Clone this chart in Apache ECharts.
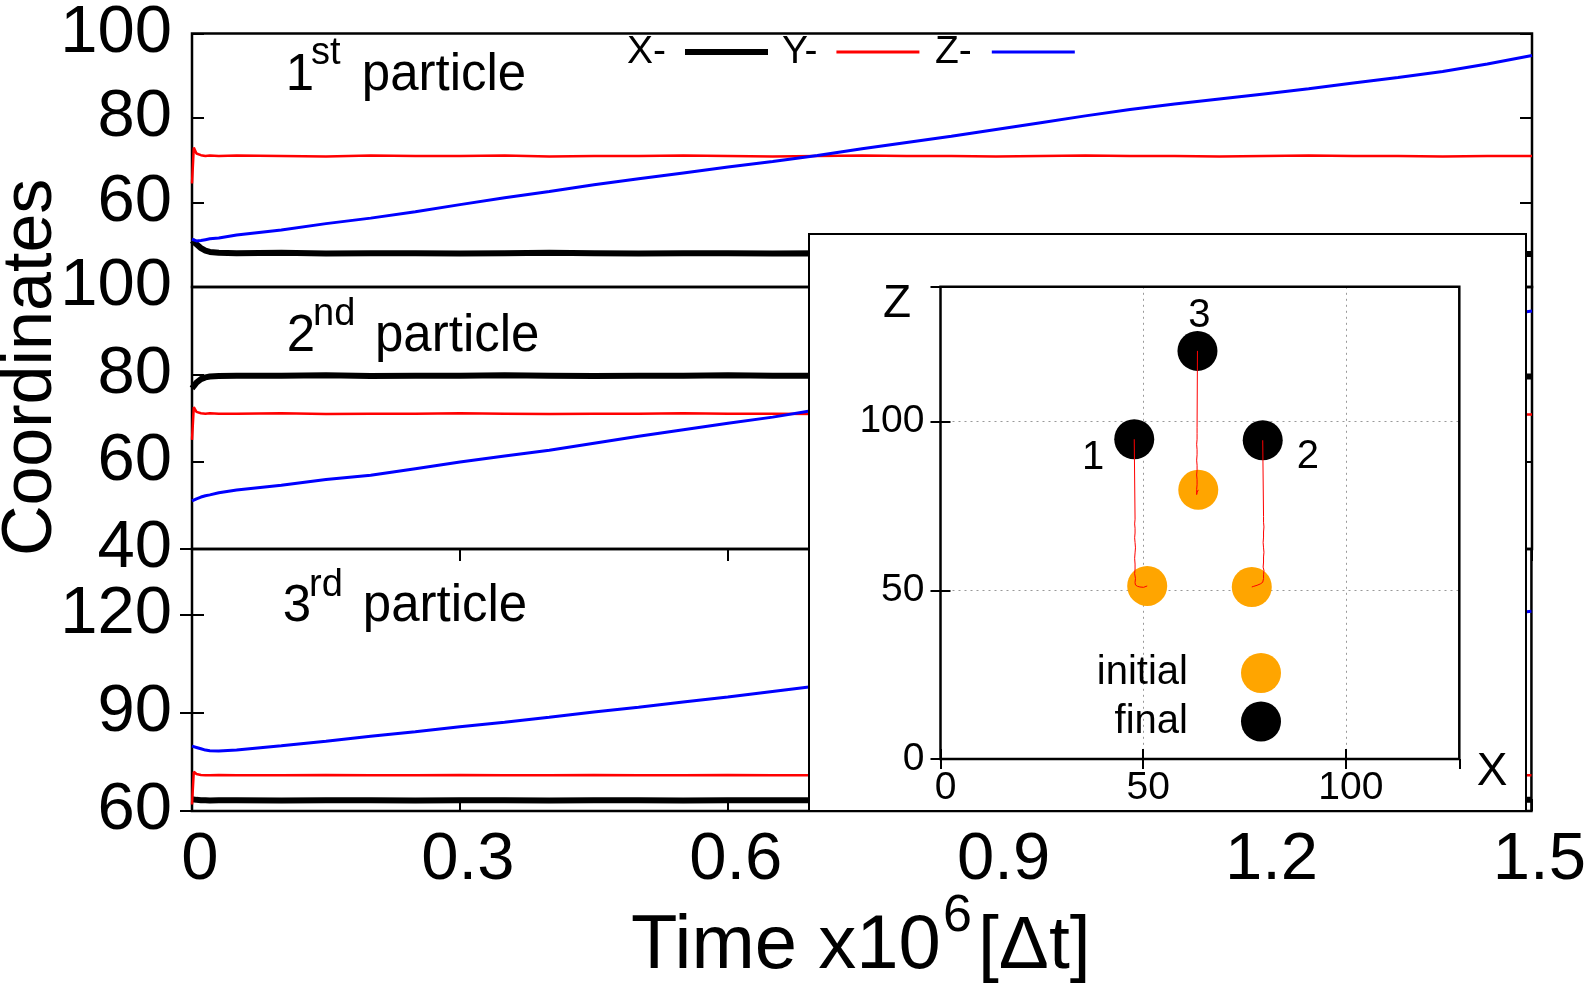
<!DOCTYPE html>
<html>
<head>
<meta charset="utf-8">
<script src="https://cdn.jsdelivr.net/npm/echarts@6.0.0/dist/echarts.min.js"></script>
<style>
  html, body { margin: 0; padding: 0; background: #fff; }
  #chart { width: 1589px; height: 991px; }
</style>
</head>
<body>
<div id="chart"></div>
<script>
const _ = null;

// time, x10^6 steps
const T = [0, 0.002, 0.005, 0.01, 0.015, 0.02, 0.03, 0.05, 0.1, 0.15, 0.2, 0.25, 0.3, 0.35, 0.4, 0.45, 0.5, 0.55, 0.6, 0.65, 0.7,
  0.75, 0.8, 0.85, 0.9, 0.95, 1.0, 1.05, 1.1, 1.15, 1.2, 1.25, 1.3, 1.35, 1.4, 1.45, 1.5];

// 1st particle (nulls = hidden under the inset)
const x1 = [51.0, 50.8, 50.1, 49.2, 48.6, 48.3, 48.1, 48.0, 48.1, 47.9, 48.0, 48.0, 47.9, 48.0, 48.1, 48.0, 47.9, 48.0, 48.0, 47.9, 48.0,
  _, _, _, _, _, _, _, _, _, _, _, _, _, _, _, 47.8];
const y1 = [64.5, 73.0, 71.6, 71.2, 71.0, 71.1, 71.0, 71.1, 71.0, 70.9, 71.1, 71.0, 71.0, 71.1, 70.9, 71.0, 71.0, 71.1, 71.0, 70.9, 71.0,
  71.1, 71.0, 71.0, 70.9, 71.0, 71.1, 71.0, 71.0, 70.9, 71.0, 71.1, 71.0, 71.0, 70.9, 71.0, 71.0];
const z1 = [51.3, 51.1, 50.9, 51.0, 51.2, 51.4, 51.6, 52.3, 53.5, 55.0, 56.3, 57.8, 59.5, 61.1, 62.6, 64.2, 65.6, 67.0, 68.4, 69.7, 71.1,
  72.7, 74.2, 75.7, 77.3, 78.9, 80.5, 82.0, 83.3, 84.5, 85.7, 86.9, 88.3, 89.6, 91.0, 92.8, 94.8];

// 2nd particle
const x2 = [76.8, 77.3, 78.1, 78.9, 79.3, 79.5, 79.6, 79.7, 79.7, 79.8, 79.6, 79.7, 79.7, 79.8, 79.7, 79.6, 79.7, 79.7, 79.8, 79.7, 79.7,
  _, _, _, _, _, _, _, _, _, _, _, _, _, _, _, 79.5];
const y2 = [65.0, 72.5, 71.4, 71.1, 71.0, 71.1, 71.0, 71.0, 71.1, 70.9, 71.0, 71.0, 71.1, 71.0, 70.9, 71.0, 71.0, 71.1, 71.0, 71.0, 70.9,
  _, _, _, _, _, _, _, _, _, _, _, _, _, _, _, 70.8];
const z2 = [51.0, 51.2, 51.5, 51.9, 52.2, 52.4, 52.9, 53.5, 54.6, 55.9, 56.9, 58.4, 59.9, 61.3, 62.6, 64.2, 65.8, 67.3, 68.8, 70.2, 71.9,
  _, _, _, _, _, _, _, _, _, _, _, _, _, _, _, 94.5];

// 3rd particle
const x3 = [63.6, 63.5, 63.4, 63.3, 63.3, 63.2, 63.3, 63.3, 63.2, 63.3, 63.3, 63.2, 63.3, 63.3, 63.2, 63.3, 63.3, 63.2, 63.3, 63.3, 63.3,
  _, _, _, _, _, _, _, _, _, _, _, _, _, _, _, 63.4];
const y3 = [62.0, 72.0, 71.3, 71.0, 70.9, 70.9, 71.0, 70.9, 70.9, 71.0, 70.9, 70.9, 71.0, 70.9, 70.9, 71.0, 70.9, 70.9, 71.0, 70.9, 70.9,
  _, _, _, _, _, _, _, _, _, _, _, _, _, _, _, 70.9];
const z3 = [79.8, 79.7, 79.4, 79.0, 78.6, 78.4, 78.3, 78.6, 79.9, 81.3, 82.8, 84.2, 85.7, 87.1, 88.6, 90.2, 91.7, 93.3, 94.8, 96.5, 98.2,
  _, _, _, _, _, _, _, _, _, _, _, _, _, _, _, 121.0];

const particles = ["1", "2", "3"];
const panelTitles = [["1", "st"], ["2", "nd"], ["3", "rd"]];
const panelRanges = [[40, 100, 20], [40, 100, 20], [60, 140, 30]];
const timeRange = [0, 1.5, 0.3];
const insetXRange = [0, 128, 50];
const insetZRange = [0, 140, 50];

const FONT = "Liberation Sans";
const xs = [x1, x2, x3], ys = [y1, y2, y3], zs = [z1, z2, z3];

function series(arr) {
  return T.map((t, i) => [t, arr[i]]).filter((p) => p[1] != null);
}
function track(ax, az) {
  return ax.map((v, i) => [v, az[i]]).filter((p) => p[0] != null && p[1] != null);
}
function lastOf(arr) {
  for (let i = arr.length - 1; i >= 0; i--) if (arr[i] != null) return arr[i];
}

const panelTop = [25, 287, 549];
const panelH = 262;
const grids = panelTop.map((top) => ({
  left: 192, width: 1340, top, height: panelH,
  show: true, borderColor: "#000", borderWidth: 2.5, backgroundColor: "transparent",
}));
grids.push({
  left: 940.5, top: 286.8, width: 518.8, height: 472.2,
  show: true, borderColor: "#000", borderWidth: 2.5, backgroundColor: "transparent", z: 22,
});

const tick = { inside: true, length: 12, lineStyle: { color: "#000", width: 2 } };
const xAxes = [0, 1, 2].map((i) => ({
  gridIndex: i, type: "value", min: timeRange[0], max: timeRange[1], interval: timeRange[2],
  axisLine: { show: false }, splitLine: { show: false },
  axisTick: { ...tick, show: i === 2 },
  axisLabel: {
    show: i === 2, fontSize: 67, lineHeight: 67, color: "#000", fontFamily: FONT,
    margin: 16, padding: [0, 0, 0, 16],
  },
}));
xAxes.push({
  gridIndex: 2, type: "value", position: "top", min: timeRange[0], max: timeRange[1], interval: timeRange[2],
  axisLine: { show: false }, splitLine: { show: false }, axisTick: tick, axisLabel: { show: false },
});

const yAxes = [];
panelRanges.forEach((r, i) => {
  yAxes.push({
    gridIndex: i, type: "value", min: r[0], max: r[1], interval: r[2],
    axisLine: { show: false }, splitLine: { show: false }, axisTick: tick,
    axisLabel: {
      fontSize: 67, color: "#000", fontFamily: FONT, margin: 20,
      showMinLabel: i !== 0, showMaxLabel: i !== 2,
    },
  });
  yAxes.push({
    gridIndex: i, type: "value", position: "right", min: r[0], max: r[1], interval: r[2],
    axisLine: { show: false }, splitLine: { show: false }, axisTick: tick, axisLabel: { show: false },
  });
});

// inset axes
const insetTick = { inside: true, length: 10, lineStyle: { color: "#000", width: 2 } };
const dotted = { show: true, showMinLine: false, showMaxLine: false, lineStyle: { color: "#999", width: 1, type: [2, 4] } };
xAxes.push({
  gridIndex: 3, type: "value", min: insetXRange[0], max: insetXRange[1], interval: insetXRange[2], z: 21,
  axisLine: { show: false }, axisTick: insetTick, splitLine: dotted,
  axisLabel: { fontSize: 39, lineHeight: 39, color: "#000", fontFamily: FONT, margin: 10, showMaxLabel: false, padding: [0, 0, 0, 10] },
});
xAxes.push({
  gridIndex: 3, type: "value", position: "top", min: insetXRange[0], max: insetXRange[1], interval: insetXRange[2], z: 21,
  axisLine: { show: false }, axisTick: insetTick, splitLine: { show: false }, axisLabel: { show: false },
});
yAxes.push({
  gridIndex: 3, type: "value", min: insetZRange[0], max: insetZRange[1], interval: insetZRange[2], z: 21,
  axisLine: { show: false }, axisTick: insetTick, splitLine: dotted,
  axisLabel: { fontSize: 39, color: "#000", fontFamily: FONT, margin: 16, showMaxLabel: false },
});
yAxes.push({
  gridIndex: 3, type: "value", position: "right", min: insetZRange[0], max: insetZRange[1], interval: insetZRange[2], z: 21,
  axisLine: { show: false }, axisTick: insetTick, splitLine: { show: false }, axisLabel: { show: false },
});

const seriesList = [];
[0, 1, 2].forEach((i) => {
  const common = { type: "line", xAxisIndex: i, yAxisIndex: i * 2, showSymbol: false, symbol: "none", connectNulls: true };
  seriesList.push({ ...common, name: "X-", color: "#000", lineStyle: { color: "#000", width: 6 }, data: series(xs[i]) });
  seriesList.push({ ...common, name: "Y-", color: "#ff0000", lineStyle: { color: "#ff0000", width: 2.5 }, data: series(ys[i]) });
  seriesList.push({ ...common, name: "Z-", color: "#0000ff", lineStyle: { color: "#0000ff", width: 3 }, data: series(zs[i]) });
});

const labelPos = [
  { position: "left", distance: 10, offset: [0, 19] },
  { position: "right", distance: 14, offset: [0, 17] },
  { position: "top", distance: 0, offset: [2, 5] },
];
seriesList.push({
  type: "scatter", name: "initial", xAxisIndex: 4, yAxisIndex: 6, z: 23,
  symbolSize: 40, color: "#ffa500", itemStyle: { color: "#ffa500", opacity: 1 },
  data: particles.map((p, i) => ({ name: p, value: [xs[i][0], zs[i][0]] })),
});
seriesList.push({
  type: "scatter", name: "final", xAxisIndex: 4, yAxisIndex: 6, z: 23,
  symbolSize: 40, color: "#000", itemStyle: { color: "#000", opacity: 1 },
  data: particles.map((p, i) => ({
    name: p, value: [lastOf(xs[i]), lastOf(zs[i])],
    label: { show: true, formatter: "{b}", fontSize: 40, lineHeight: 40, color: "#000", fontFamily: FONT, ...labelPos[i] },
  })),
});
particles.forEach((p, i) => {
  seriesList.push({
    type: "line", name: "track " + p, xAxisIndex: 4, yAxisIndex: 6, z: 24,
    showSymbol: false, symbol: "none", lineStyle: { color: "#ff0000", width: 1 },
    data: track(xs[i], zs[i]),
  });
});

const lineLegend = (name, left, h, pad) => ({
  data: [name], left, top: 32, padding: 0, icon: "rect", itemWidth: 83, itemHeight: h, align: "right",
  selectedMode: false, itemStyle: { borderWidth: 0 },
  textStyle: { fontSize: 39, lineHeight: 40, color: "#000", fontFamily: FONT, padding: [0, pad, 0, 0] },
});
const dotLegend = (name, top) => ({
  data: [name], right: 308, top, padding: 0, icon: "circle", itemWidth: 40, itemHeight: 40, align: "right",
  selectedMode: false, z: 30, itemStyle: { borderWidth: 0, opacity: 1 },
  textStyle: { fontSize: 40, lineHeight: 40, color: "#000", fontFamily: FONT, padding: [0, 48, 0, 0] },
});

function txt(text, x, y, size, extra) {
  return {
    type: "text", x, y, z: 40,
    style: Object.assign({ text, fontSize: size, fontFamily: FONT, fill: "#000", align: "left", verticalAlign: "middle" }, extra || {}),
  };
}

const titleY = [[75.5, 54], [337, 315], [607.3, 586]];
const titleX = [[285.8, 311, 361.8], [286.8, 313, 375], [282.7, 309, 362.8]];
const graphics = [
  {
    type: "rect", z: 10,
    shape: { x: 809, y: 234, width: 717, height: 577 },
    style: { fill: "#fff", stroke: "#000", lineWidth: 2 },
  },
  txt("Coordinates", 31.5, 367.4, 70, { align: "center" }),
  txt("Time x10", 631, 947, 76),
  txt("6", 943, 917, 52),
  txt("[Δt]", 978, 947, 75),
  txt("Z", 897, 304, 46, { align: "center" }),
  txt("X", 1492, 772, 46, { align: "center" }),
];
graphics[1].rotation = Math.PI / 2;
panelTitles.forEach((pt, i) => {
  graphics.push(txt(pt[0], titleX[i][0], titleY[i][0], 51));
  graphics.push(txt(pt[1], titleX[i][1], titleY[i][1], 38));
  graphics.push(txt("particle", titleX[i][2], titleY[i][0], 51));
});

const chart = echarts.init(document.getElementById("chart"));
chart.setOption({
  animation: false,
  backgroundColor: "#fff",
  textStyle: { fontFamily: FONT },
  grid: grids,
  xAxis: xAxes,
  yAxis: yAxes,
  legend: [
    lineLegend("X-", 627, 6, 14),
    lineLegend("Y-", 782, 3, 14),
    lineLegend("Z-", 935, 3, 15),
    dotLegend("initial", 653),
    dotLegend("final", 701.5),
  ],
  graphic: graphics,
  series: seriesList,
});
</script>
</body>
</html>
